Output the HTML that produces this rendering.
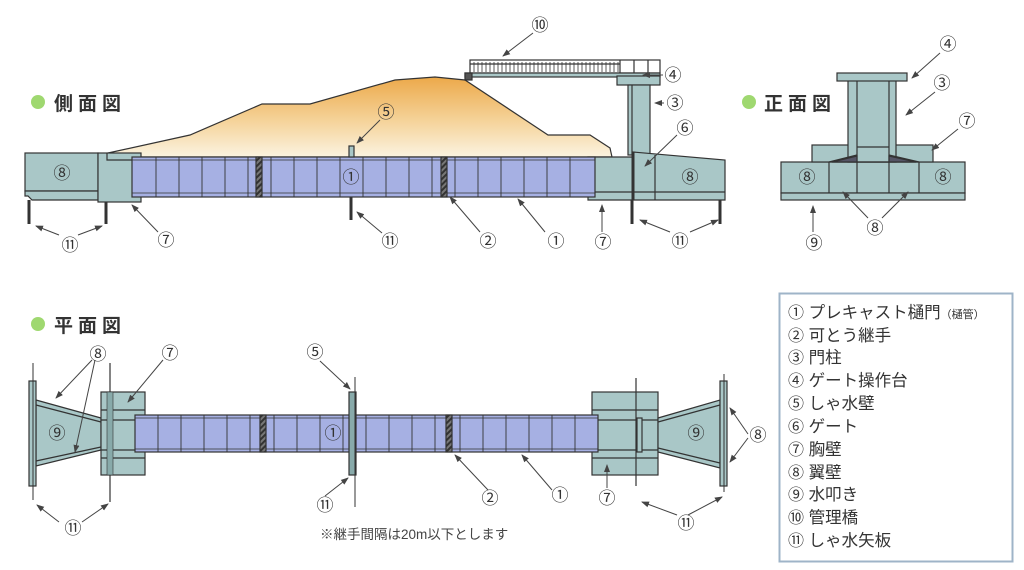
<!DOCTYPE html>
<html><head><meta charset="utf-8"><style>
html,body{margin:0;padding:0;background:#fff;}
svg{display:block;}
text{font-family:"Liberation Sans","Noto Sans CJK JP",sans-serif;fill:#333;}
.n{font-size:17px;text-anchor:middle;font-family:"Noto Sans CJK JP","DejaVu Sans",sans-serif;}
.t{font-size:19px;font-weight:bold;letter-spacing:5px;fill:#333;}
.lg{font-size:16.5px;}
.c{font-family:"Noto Sans CJK JP",sans-serif;font-size:16px;}
</style></head><body>
<svg width="1024" height="570" viewBox="0 0 1024 570" xmlns="http://www.w3.org/2000/svg">
<defs>
<linearGradient id="emb" x1="0" y1="0" x2="0" y2="1">
<stop offset="0" stop-color="#eca94a"/><stop offset="0.55" stop-color="#f5d39a"/><stop offset="1" stop-color="#fbf3e0"/>
</linearGradient>
<marker id="ar" markerWidth="8" markerHeight="8" refX="7" refY="4" orient="auto" markerUnits="userSpaceOnUse"><path d="M0,1 L8,4 L0,7 Z" fill="#444"/></marker>
<pattern id="jt" width="4" height="4" patternUnits="userSpaceOnUse" patternTransform="rotate(45)"><rect width="4" height="4" fill="#333"/><rect width="2" height="4" fill="#777"/></pattern>
</defs>
<g stroke="#333" stroke-width="1.2">
<!-- SIDE VIEW -->
<path d="M108,153 L190,135 L262,104 L310,104 L395,80 L435,77 L465,80 L548,135 L590,135 L610,148 L612,157 L108,157 Z" fill="url(#emb)"/>
<rect x="470" y="60" width="190" height="13" fill="#fff"/>
<g stroke-width="0.8"><path d="M474,62 V72 M478,62 V72 M482,62 V72 M486,62 V72 M490,62 V72 M494,62 V72 M498,62 V72 M502,62 V72 M506,62 V72 M510,62 V72 M514,62 V72 M518,62 V72 M522,62 V72 M526,62 V72 M530,62 V72 M534,62 V72 M538,62 V72 M542,62 V72 M546,62 V72 M550,62 V72 M554,62 V72 M558,62 V72 M562,62 V72 M566,62 V72 M570,62 V72 M574,62 V72 M578,62 V72 M582,62 V72 M586,62 V72 M590,62 V72 M594,62 V72 M598,62 V72 M602,62 V72 M606,62 V72 M610,62 V72 M614,62 V72 M618,62 V72"/></g>
<path d="M470,64 H620 M620,60 V73 M634,60 V73 M648,60 V73" fill="none"/>
<rect x="465" y="73" width="195" height="4" fill="#a9c7c7"/>
<rect x="465" y="73" width="7" height="7" fill="#555"/>
<rect x="617" y="76" width="43" height="9" fill="#a9c7c7"/>
<rect x="628" y="85" width="22" height="70" fill="#a9c7c7"/>
<line x1="632" y1="85" x2="632" y2="155"/>
<rect x="25" y="153" width="73" height="38" fill="#a9c7c7"/>
<path d="M25,191 H98 V200 H32 L28,196 H25 Z" fill="#a9c7c7"/>
<rect x="98" y="153" width="43" height="49" fill="#a9c7c7"/>
<path d="M107,153 V160 H141" fill="none"/>
<line x1="29" y1="200" x2="29" y2="224" stroke-width="3"/>
<line x1="106" y1="202" x2="106" y2="224" stroke-width="3"/>
<path d="M588,157 H633 L633,152 L725,160 V200 H588 Z" fill="#a9c7c7"/>
<path d="M588,192 H725 M655,155 V200" fill="none"/>
<line x1="633" y1="152" x2="633" y2="200" stroke-width="3"/>
<line x1="632" y1="200" x2="632" y2="224" stroke-width="3"/>
<line x1="720" y1="200" x2="720" y2="224" stroke-width="3"/>
<rect x="132" y="157" width="463" height="40" fill="#a6b0e3"/>
<path d="M132,160 H595 M132,193 H595" fill="none" stroke-width="0.8"/>
<path d="M156,157V197M179,157V197M202,157V197M225,157V197M248,157V197M271,157V197M294,157V197M317,157V197M340,157V197M363,157V197M386,157V197M409,157V197M432,157V197M455,157V197M478,157V197M501,157V197M524,157V197M547,157V197M570,157V197" fill="none" stroke-width="0.9"/>
<rect x="256" y="157" width="6" height="40" fill="url(#jt)"/>
<rect x="441" y="157" width="6" height="40" fill="url(#jt)"/>
<rect x="349" y="146" width="5" height="11" fill="#a9c7c7"/>
<line x1="351" y1="197" x2="351" y2="220" stroke-width="3"/>

<!-- FRONT VIEW -->
<rect x="781" y="162" width="184" height="31" fill="#a9c7c7"/>
<rect x="781" y="193" width="184" height="7" fill="#a9c7c7"/>
<rect x="812" y="145" width="121" height="17" fill="#a9c7c7"/>
<rect x="848" y="80" width="48" height="82" fill="#a9c7c7"/>
<path d="M857,80 V162 M889,80 V162 M857,147 H889 M857,162 H889" fill="none"/>
<rect x="837" y="73" width="70" height="8" fill="#a9c7c7"/>
<path d="M829,162 L857,155 M889,155 L919,162 M829,162 V193 M857,162 V193 M889,162 V193 M919,162 V193" fill="none"/>
<path d="M832,162 L857,156 L857,162 Z M889,156 L916,162 L889,162 Z" fill="#556"/>

<!-- PLAN VIEW -->
<path d="M36,400 L101,418 V450 L36,466 Z" fill="#a9c7c7"/>
<path d="M36,405 L101,422 M36,461 L101,447" fill="none"/>
<rect x="29" y="381" width="7" height="105" fill="#a9c7c7"/>
<line x1="33" y1="363" x2="33" y2="500" stroke-width="1"/>
<rect x="101" y="392" width="44" height="83" fill="#a9c7c7"/>
<path d="M101,410 H145 M101,420 H145 M101,450 H145 M101,458 H145 M110,363 V502" fill="none"/>
<rect x="107" y="392" width="6" height="83" fill="#8aa" stroke-width="0.6"/>
<rect x="592" y="392" width="66" height="83" fill="#a9c7c7"/>
<path d="M592,410 H658 M592,420 H658 M592,450 H658 M592,458 H658 M636,378 V486" fill="none"/>
<rect x="637" y="418" width="5" height="34" fill="#a9c7c7"/>
<path d="M658,418 L720,400 V468 L658,452 Z" fill="#a9c7c7"/>
<path d="M658,422 L720,405 M658,448 L720,463" fill="none"/>
<rect x="720" y="381" width="7" height="105" fill="#a9c7c7"/>
<line x1="724" y1="374" x2="724" y2="492" stroke-width="1"/>
<rect x="135" y="415" width="463" height="37" fill="#a6b0e3"/>
<path d="M135,418 H598 M135,449 H598" fill="none" stroke-width="0.8"/>
<path d="M158,415V452M181,415V452M204,415V452M227,415V452M250,415V452M274,415V452M297,415V452M320,415V452M343,415V452M366,415V452M389,415V452M412,415V452M435,415V452M460,415V452M483,415V452M506,415V452M529,415V452M552,415V452M575,415V452" fill="none" stroke-width="0.9"/>
<rect x="260" y="415" width="6" height="37" fill="url(#jt)"/>
<rect x="446" y="415" width="6" height="37" fill="url(#jt)"/>
<rect x="349" y="392" width="7" height="83" fill="#8aa"/>
<line x1="355" y1="377" x2="355" y2="507" stroke-width="1"/>
</g>

<g stroke="#444" stroke-width="1" fill="none" marker-end="url(#ar)">
<line x1="533" y1="33" x2="503" y2="56"/>
<line x1="663" y1="75" x2="643" y2="75"/>
<line x1="664" y1="103" x2="655" y2="103"/>
<line x1="677" y1="135" x2="645" y2="166"/>
<line x1="380" y1="120" x2="357" y2="143"/>
<line x1="59" y1="235" x2="36" y2="226"/>
<line x1="78" y1="235" x2="102" y2="226"/>
<line x1="158" y1="232" x2="132" y2="205"/>
<line x1="382" y1="233" x2="357" y2="212"/>
<line x1="480" y1="232" x2="450" y2="197"/>
<line x1="545" y1="232" x2="518" y2="199"/>
<line x1="602" y1="232" x2="602" y2="205"/>
<line x1="670" y1="232" x2="640" y2="220"/>
<line x1="690" y1="232" x2="718" y2="220"/>
<line x1="940" y1="53" x2="912" y2="78"/>
<line x1="935" y1="92" x2="906" y2="115"/>
<line x1="958" y1="129" x2="932" y2="150"/>
<line x1="868" y1="218" x2="843" y2="192"/>
<line x1="882" y1="218" x2="908" y2="192"/>
<line x1="813" y1="232" x2="813" y2="206"/>
<line x1="92" y1="360" x2="56" y2="398"/>
<line x1="95" y1="360" x2="75" y2="452"/>
<line x1="163" y1="360" x2="128" y2="402"/>
<line x1="320" y1="361" x2="350" y2="389"/>
<line x1="325" y1="496" x2="348" y2="478"/>
<line x1="488" y1="490" x2="455" y2="455"/>
<line x1="552" y1="490" x2="522" y2="455"/>
<line x1="607" y1="488" x2="607" y2="465"/>
<line x1="677" y1="515" x2="642" y2="502"/>
<line x1="688" y1="515" x2="722" y2="497"/>
<line x1="748" y1="434" x2="730" y2="408"/>
<line x1="748" y1="438" x2="730" y2="462"/>
<line x1="59" y1="522" x2="37" y2="505"/>
<line x1="82" y1="522" x2="108" y2="504"/>
</g>

<g>
<text x="540" y="31" class="n">⑩</text>
<text x="673" y="81" class="n">④</text>
<text x="675" y="109" class="n">③</text>
<text x="685" y="134" class="n">⑥</text>
<text x="690" y="183" class="n">⑧</text>
<text x="603" y="248" class="n">⑦</text>
<text x="680" y="247" class="n">⑪</text>
<text x="556" y="247" class="n">①</text>
<text x="488" y="247" class="n">②</text>
<text x="390" y="247" class="n">⑪</text>
<text x="166" y="246" class="n">⑦</text>
<text x="70" y="251" class="n">⑪</text>
<text x="386" y="118" class="n">⑤</text>
<text x="351" y="183" class="n">①</text>
<text x="62" y="179" class="n">⑧</text>
<text x="948" y="50" class="n">④</text>
<text x="942" y="89" class="n">③</text>
<text x="967" y="127" class="n">⑦</text>
<text x="807" y="183" class="n">⑧</text>
<text x="943" y="183" class="n">⑧</text>
<text x="875" y="234" class="n">⑧</text>
<text x="814" y="249" class="n">⑨</text>
<text x="98" y="360" class="n">⑧</text>
<text x="170" y="359" class="n">⑦</text>
<text x="315" y="358" class="n">⑤</text>
<text x="57" y="439" class="n">⑨</text>
<text x="333" y="439" class="n">①</text>
<text x="325" y="511" class="n">⑪</text>
<text x="490" y="504" class="n">②</text>
<text x="560" y="501" class="n">①</text>
<text x="607" y="504" class="n">⑦</text>
<text x="686" y="529" class="n">⑪</text>
<text x="73" y="534" class="n">⑪</text>
<text x="696" y="439" class="n">⑨</text>
<text x="758" y="441" class="n">⑧</text>
</g>

<circle cx="38" cy="102" r="7" fill="#9fd870"/>
<text x="54" y="110" class="t">側面図</text>
<circle cx="749" cy="102" r="7" fill="#9fd870"/>
<text x="764" y="110" class="t">正面図</text>
<circle cx="38" cy="324" r="7" fill="#9fd870"/>
<text x="54" y="332" class="t">平面図</text>

<text x="320" y="539" style="font-size:13.5px;fill:#444">※継手間隔は20m以下とします</text>

<rect x="779.5" y="293.5" width="233" height="268" fill="#fff" stroke="#9fb4c8" stroke-width="2"/>
<g class="lg">
<text x="788" y="318"><tspan class="c">①</tspan> プレキャスト樋門<tspan style="font-size:11px">（樋管）</tspan></text>
<text x="788" y="341"><tspan class="c">②</tspan> 可とう継手</text>
<text x="788" y="363"><tspan class="c">③</tspan> 門柱</text>
<text x="788" y="386"><tspan class="c">④</tspan> ゲート操作台</text>
<text x="788" y="409"><tspan class="c">⑤</tspan> しゃ水壁</text>
<text x="788" y="432"><tspan class="c">⑥</tspan> ゲート</text>
<text x="788" y="455"><tspan class="c">⑦</tspan> 胸壁</text>
<text x="788" y="478"><tspan class="c">⑧</tspan> 翼壁</text>
<text x="788" y="500"><tspan class="c">⑨</tspan> 水叩き</text>
<text x="788" y="523"><tspan class="c">⑩</tspan> 管理橋</text>
<text x="788" y="546"><tspan class="c">⑪</tspan> しゃ水矢板</text>
</g>
</svg>
</body></html>
